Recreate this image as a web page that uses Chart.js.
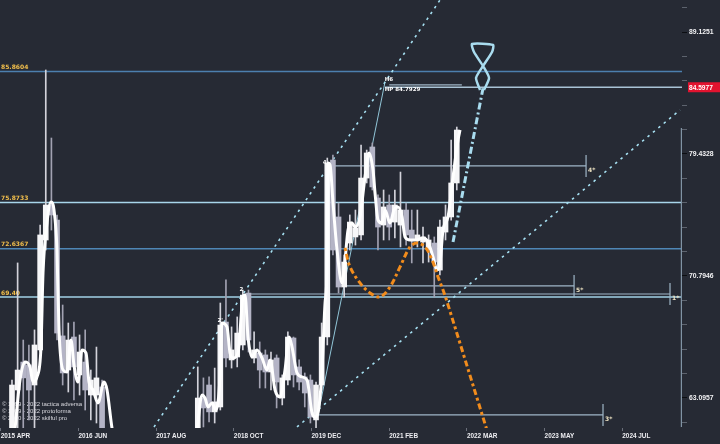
<!DOCTYPE html>
<html>
<head>
<meta charset="utf-8">
<script src="https://cdn.jsdelivr.net/npm/chart.js@4.4.1/dist/chart.umd.min.js"></script>
<style>
  html, body { margin: 0; padding: 0; background: #262a34; }
  #wrap { width: 720px; height: 444px; }
</style>
</head>
<body>
<div id="wrap"><canvas id="chart" width="720" height="444"></canvas></div>
<script>
// time is counted in months, 0 = 2015 APR
const X_MIN = -0.13, X_MAX = 121.0;
const Y_MIN = 61.33, Y_MAX = 91.86;

const tickT = [0, 13.8, 27.6, 41.4, 55.2, 69.0, 82.8, 96.6, 110.4];
const tickLabels = ['2015 APR', '2016 JUN', '2017 AUG', '2018 OCT', '2019 DEC', '2021 FEB', '2022 MAR', '2023 MAY', '2024 JUL'];

const priceTicks = [61.6595, 63.0957, 64.5654, 66.0693, 67.6083, 69.1831, 70.7946, 72.4436, 74.1310,
  75.8578, 77.6247, 79.4328, 81.2831, 83.1764, 85.1138, 87.0964, 89.1251, 91.2011];
const priceLabels = [63.0957, 70.7946, 79.4328, 89.1251];
const lastPrice = 84.5977;

// monthly candles
const candleT = [2, 3, 4, 5, 6, 7, 8, 9, 10, 11, 12, 13, 14, 15, 16, 17, 18,
  35, 36, 37, 38, 39, 40, 41, 42, 43, 44, 45, 46, 47, 48, 49, 50, 51, 52, 53, 54, 55, 56, 57, 58,
  59, 60, 61, 62, 63, 64, 65, 66, 67, 68, 69, 70, 71, 72, 73, 74, 75, 76, 77, 78, 79, 80, 81];
const candleOpen = [61.22, 63.57, 65.27, 65.09, 63.87, 66.02, 73.24, 75.70, 74.63, 66.90, 64.78, 66.83, 64.48, 65.27, 63.27, 63.27, 63.75,
  61.22, 63.09, 63.87, 62.27, 62.56, 67.78, 65.40, 65.58, 66.33, 69.66, 65.52, 65.83, 65.71, 64.66, 65.52, 63.09, 64.17, 66.77, 64.97, 64.36, 64.17, 61.80, 63.87, 66.83,
  78.98, 74.85, 70.06, 73.03, 73.45, 73.59, 77.65, 79.96, 76.20, 74.28, 75.70, 74.49, 74.28, 75.34, 73.93, 73.24, 73.10, 72.69, 73.03, 71.19, 73.79, 74.85, 77.29];
const candleHigh = [64.17, 71.67, 66.64, 66.33, 67.28, 74.28, 85.99, 80.64, 74.99, 68.88, 67.72, 67.78, 66.96, 67.28, 64.78, 66.20, 64.17,
  64.97, 64.30, 64.36, 64.90, 69.01, 70.53, 67.47, 68.11, 69.86, 69.86, 67.15, 66.52, 66.02, 65.89, 65.71, 64.48, 67.15, 66.83, 65.40, 64.60, 64.48, 64.05, 67.72, 79.13,
  79.36, 75.84, 72.21, 74.99, 75.34, 80.11, 79.73, 80.26, 76.42, 76.78, 76.42, 76.78, 78.09, 75.84, 75.34, 75.34, 74.14, 73.59, 73.45, 74.63, 75.70, 80.49, 81.48];
const candleLow = [60.64, 61.33, 61.22, 61.80, 61.22, 65.89, 72.55, 73.93, 66.64, 63.87, 63.45, 62.97, 63.27, 62.38, 61.80, 61.62, 60.64,
  60.64, 61.39, 61.68, 61.62, 62.38, 64.97, 64.90, 64.97, 66.02, 65.89, 65.21, 63.69, 63.69, 63.57, 62.50, 62.68, 63.87, 63.75, 63.57, 62.56, 61.62, 61.33, 63.57, 66.33,
  72.21, 69.66, 69.40, 72.55, 72.89, 73.24, 77.29, 76.78, 72.55, 73.24, 73.24, 73.38, 72.76, 72.89, 71.67, 72.76, 71.67, 71.73, 69.40, 70.86, 73.24, 74.63, 76.78];
const candleClose = [63.87, 64.78, 64.30, 63.57, 66.33, 73.59, 75.70, 74.99, 67.08, 64.60, 66.64, 64.97, 65.89, 63.57, 64.17, 64.30, 61.10,
  63.09, 62.50, 62.27, 62.86, 67.59, 65.52, 66.02, 67.08, 69.53, 66.64, 66.02, 64.78, 64.66, 65.40, 64.05, 64.30, 66.83, 64.48, 64.05, 63.39, 61.97, 63.87, 66.83, 78.76,
  72.55, 70.06, 71.73, 74.49, 74.07, 77.65, 79.51, 77.00, 74.14, 75.56, 74.14, 75.70, 75.34, 73.59, 73.24, 73.59, 73.45, 73.24, 71.73, 74.14, 74.85, 77.29, 81.25];

// smoothed price line (null = gap)
const smoothT = [2.36, 3.42, 4.31, 5.20, 5.73, 6.44, 7.15, 7.51, 8.22, 8.93, 9.46, 9.99, 10.35, 11.06, 11.77, 12.48, 13.01,
  13.72, 14.43, 15.15, 15.68, 16.39, 17.28, 18.34, 18.88, 19.76, 20.3, 27,
  34.68, 35.75, 36.28, 36.82, 37.53, 38.24, 38.95, 39.30, 40.19, 40.72, 41.26, 42.14, 43.03, 43.39, 43.92, 44.63, 45.52,
  46.41, 47.29, 47.83, 48.72, 49.61, 50.49, 51.20, 51.74, 52.62, 53.51, 54.40, 55.29, 55.82, 56.35, 57.06, 57.60, 57.95,
  58.13, 58.49, 59.02, 59.73, 60.62, 61.15, 61.68, 62.39, 62.93, 63.81, 64.70, 65.41, 66.12, 66.48, 67.01, 67.72, 68.26,
  69.14, 69.85, 70.56, 71.27, 71.81, 72.70, 73.94, 75.00, 75.89, 76.78, 77.49, 78.02, 78.56, 79.44, 80.33, 81.22, 81.58];
const smoothV = [60.64, 64.17, 65.27, 64.97, 64.05, 64.36, 66.20, 70.99, 74.42, 75.91, 75.34, 72.55, 67.28, 64.78, 64.66, 66.64, 65.09,
  64.05, 66.02, 65.83, 64.05, 63.57, 62.80, 64.05, 63.57, 61.33, 60.5, null,
  60.5, 63.27, 63.09, 62.56, 62.80, 62.38, 64.36, 67.72, 67.47, 65.83, 65.52, 65.83, 69.40, 69.53, 66.83, 65.58, 66.02,
  65.52, 64.78, 65.40, 63.57, 63.15, 64.78, 66.83, 66.20, 64.60, 64.36, 64.17, 62.21, 61.97, 62.21, 64.78, 69.01, 71.19,
  78.76, 78.61, 75.84, 72.55, 70.33, 71.87, 73.93, 74.42, 74.14, 74.85, 77.72, 79.51, 78.24, 76.56, 74.63, 74.42, 75.34,
  74.42, 75.34, 75.56, 74.85, 73.45, 73.24, 73.24, 73.38, 73.10, 72.07, 71.19, 71.67, 73.93, 74.85, 77.72, 80.49, 81.25];

// horizontal levels across the chart
const levelValues = [85.8604, 75.8733, 72.6367, 69.40];
const levelLabels = ['85.8604', '75.8733', '72.6367', '69.40'];
const levelColors = ['#4c7fae', '#a8d6ea', '#4f87b6', '#a2d2e6'];

// target levels with end marks
const starLevel = [78.54, 70.13, 69.60, 62.09];
const starFrom = [58.5, 60.3, 43.4, 56.4];
const starTo = [103.96, 101.83, 118.87, 106.97];
const starLabel = ['4*', '5*', '1*', '3*'];

const highLevel = 84.7929;
const highFrom = 69.0, highTo = 81.9;

// trend lines
const trendA_T = [27.22, 78.02], trendA_V = [61.39, 91.86];
const trendB_T = [52.62, 120.65], trendB_V = [61.39, 82.80];
const trendC_T = [56.35, 68.25], trendC_V = [62.09, 85.02];
const axisLineT = [120.92, 120.92], axisLineV = [81.40, 61.39];

// projected paths
const orangeT = [61.15, 62.04, 63.81, 65.59, 67.37, 69.14, 70.92, 72.69, 73.94, 75.36, 76.6, 77.67, 78.56, 79.45, 86.9];
const orangeV = [72.69, 71.40, 70.33, 69.67, 69.41, 70.07, 71.40, 72.76, 73.03, 72.76, 71.88, 70.73, 69.86, 68.88, 60.64];
const arrowT = [80.33, 85.66];
const arrowV = [73.10, 84.52];
const glassT = [85.13, 84.42, 85.66, 87.26, 87.44, 83.71, 84.06, 85.66, 86.73, 85.84];
const glassV = [84.38, 85.34, 86.31, 87.46, 88.04, 88.12, 87.46, 86.31, 85.34, 84.38];

// chart notes
const noteT = [38.5, 42.4, 57.2, 68.2, 68.2];
const noteV = [67.85, 69.86, 78.76, 85.18, 84.45];
const noteText = ["2'", '2', '4', 'H6', 'HP 84.7929'];

const copyright = ['\u00a9 1999 - 2022 tactica adversa', '\u00a9 1999 - 2022 protoforma', '\u00a9 2010 - 2022 skilful pro'];

const pts = (ts, vs) => ts.map((t, i) => ({x: t, y: vs[i]}));
const seg = (x0, x1, v) => [{x: x0, y: v}, {x: x1, y: v}];
const up = candleT.map((t, i) => candleClose[i] >= candleOpen[i]);

function lineSet(data, color, width, order, dash) {
  return {type: 'line', data: data, borderColor: color, borderWidth: width, borderDash: dash || [],
    pointRadius: 0, tension: 0, order: order, fill: false};
}

const datasets = [];
levelValues.forEach((v, i) => datasets.push(lineSet(seg(X_MIN, X_MAX, v), levelColors[i], 1.5, 20)));
datasets.push(lineSet(seg(68.25, X_MAX, lastPrice), '#a9c3d6', 1.3, 20));
datasets.push(lineSet(seg(highFrom, highTo, highLevel), '#9fb5c6', 1.2, 20));
starLevel.forEach((v, i) => datasets.push(lineSet(seg(starFrom[i], starTo[i], v), '#9fb6c7', 1.2, 19)));
datasets.push(lineSet(pts(trendA_T, trendA_V), '#a6e0f2', 1.6, 18, [2.5, 4.5]));
datasets.push(lineSet(pts(trendB_T, trendB_V), '#a6e0f2', 1.6, 18, [2.5, 4.5]));
datasets.push(lineSet(pts(trendC_T, trendC_V), '#92c6d8', 1, 18));
datasets.push(lineSet(pts(axisLineT, axisLineV), '#8093a4', 1.5, 18));

datasets.push({
  type: 'bar', grouped: false, order: 12, barThickness: 1,
  data: candleT.map((t, i) => ({x: t, y: [candleLow[i], candleHigh[i]]})),
  backgroundColor: up.map(u => u ? '#d2d2da' : '#a2a2b2')
});
datasets.push({
  type: 'bar', grouped: false, order: 11, barThickness: 5,
  data: candleT.map((t, i) => ({x: t, y: [candleOpen[i], candleClose[i]]})),
  backgroundColor: up.map(u => u ? '#f6f6f8' : '#b4b4c6')
});

datasets.push(Object.assign(lineSet(pts(smoothT, smoothV), '#ffffff', 3, 6), {cubicInterpolationMode: 'monotone', spanGaps: false}));
datasets.push(Object.assign(lineSet(pts(orangeT, orangeV), '#f28c1c', 3, 4, [3, 3, 6, 3]), {tension: 0.35}));
datasets.push(lineSet(pts(arrowT, arrowV), '#a9dcef', 3, 3, [7, 3, 2, 3]));
datasets.push(Object.assign(lineSet(pts(glassT, glassV), '#a9dcef', 2.5, 2), {tension: 0.2}));

const overlay = {
  id: 'overlay',
  beforeDatasetsDraw(chart) {
    const {ctx, scales: {y}} = chart;
    ctx.save();
    ctx.font = '6px "Liberation Sans", Arial, sans-serif';
    ctx.fillStyle = '#d8d8de';
    ctx.textBaseline = 'middle';
    copyright.forEach((s, i) => ctx.fillText(s, 2, 404 + i * 7));
    ctx.font = 'bold 6px "DejaVu Sans", sans-serif';
    ctx.fillStyle = '#f2bf4c';
    ctx.textBaseline = 'bottom';
    levelValues.forEach((v, i) => ctx.fillText(levelLabels[i], 1, y.getPixelForValue(v) - 1));
    ctx.restore();
  },
  afterDatasetsDraw(chart) {
    const {ctx, scales: {x, y}} = chart;
    ctx.save();
    ctx.strokeStyle = '#9fb6c7';
    ctx.lineWidth = 1.2;
    ctx.font = 'bold 6px "DejaVu Sans", sans-serif';
    ctx.textBaseline = 'middle';
    starLevel.forEach((v, i) => {
      const px = x.getPixelForValue(starTo[i]);
      const py = y.getPixelForValue(v);
      ctx.beginPath();
      ctx.moveTo(px, py - 11);
      ctx.lineTo(px, py + 11);
      ctx.stroke();
      ctx.fillStyle = '#efe4c4';
      ctx.fillText(starLabel[i], px + 2, py + 4);
    });
    ctx.fillStyle = '#ffffff';
    ctx.font = 'bold 5.5px "DejaVu Sans", sans-serif';
    noteT.forEach((t, i) => ctx.fillText(noteText[i], x.getPixelForValue(t), y.getPixelForValue(noteV[i])));
    ctx.restore();
  },
  afterDraw(chart) {
    const {ctx, scales: {y}} = chart;
    const py = y.getPixelForValue(lastPrice);
    ctx.save();
    ctx.fillStyle = '#e2132f';
    ctx.fillRect(688, py - 5, 32, 10);
    ctx.fillStyle = '#ffffff';
    ctx.font = 'bold 6.6px "Liberation Sans", Arial, sans-serif';
    ctx.textBaseline = 'middle';
    ctx.fillText(lastPrice.toFixed(4), 689, py + 0.5);
    ctx.restore();
  }
};

new Chart(document.getElementById('chart'), {
  type: 'bar',
  data: {datasets: datasets},
  plugins: [overlay],
  options: {
    responsive: false,
    animation: false,
    devicePixelRatio: 1,
    layout: {padding: 0},
    plugins: {legend: {display: false}, tooltip: {enabled: false}},
    scales: {
      x: {
        type: 'linear', min: X_MIN, max: X_MAX, offset: false,
        border: {display: false},
        grid: {drawOnChartArea: false, offset: false, tickLength: 3, color: '#6a6f7a'},
        afterBuildTicks: s => { s.ticks = tickT.map(v => ({value: v})); },
        afterFit: s => { s.height = 16; s.paddingLeft = 0; s.paddingRight = 0; },
        ticks: {
          autoSkip: false, maxRotation: 0, align: 'start', padding: 1, color: '#ececf0',
          font: {family: 'Liberation Sans', size: 6.4, weight: 'bold'},
          callback: (v, i) => tickLabels[i]
        }
      },
      y: {
        type: 'logarithmic', position: 'right', min: Y_MIN, max: Y_MAX,
        border: {display: false},
        grid: {
          drawOnChartArea: false, tickLength: 5,
          color: c => (c.tick && priceLabels.includes(c.tick.value)) ? '#0c0e12' : '#5d636e'
        },
        afterBuildTicks: s => { s.ticks = priceTicks.map(v => ({value: v})); },
        afterFit: s => { s.width = 38; s.paddingTop = 0; s.paddingBottom = 0; },
        ticks: {
          autoSkip: false, padding: 2, color: '#f2f2f4',
          font: {family: 'Liberation Sans', size: 6.8, weight: 'bold'},
          callback: v => priceLabels.includes(v) ? v.toFixed(4) : ''
        }
      }
    }
  }
});
</script>
</body>
</html>
